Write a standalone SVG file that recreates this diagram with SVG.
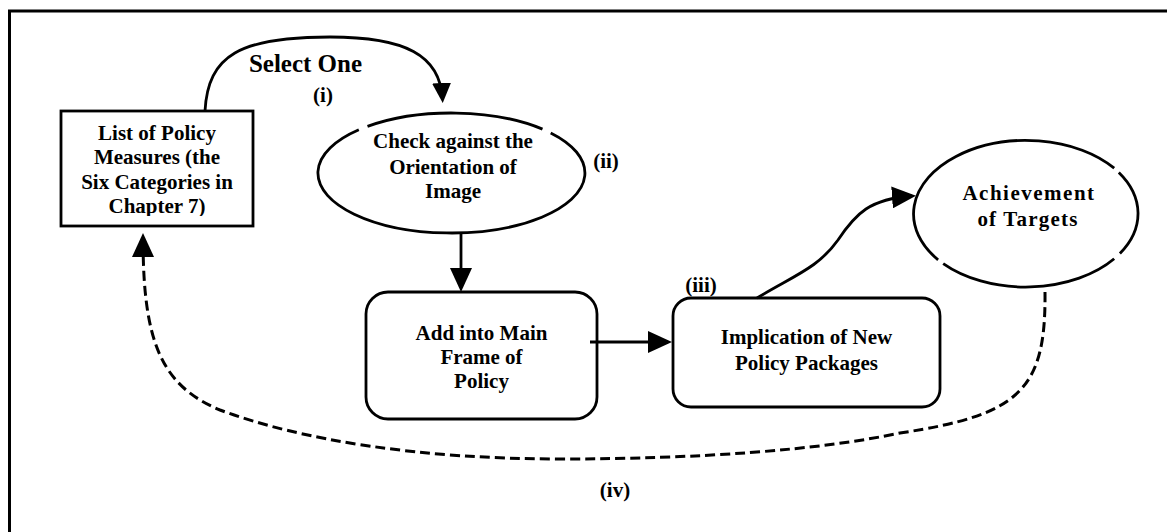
<svg xmlns="http://www.w3.org/2000/svg" width="1167" height="532" viewBox="0 0 1167 532">
  <style>
    .frame { fill: none; stroke: #000; stroke-width: 3; }
    .box { fill: #fff; stroke: #000; stroke-width: 2.8; }
    .oval { fill: none; stroke: #000; stroke-width: 2.8; }
    .lbl { font-family: "Liberation Serif", "Times New Roman", serif; font-weight: bold; font-size: 21px; fill: #000; text-anchor: middle; }
    .tag { font-family: "Liberation Serif", "Times New Roman", serif; font-weight: bold; font-size: 21px; fill: #000; text-anchor: middle; }
    .flow { fill: none; stroke: #000; stroke-width: 2.8; }
    .loop { fill: none; stroke: #000; stroke-width: 3; stroke-dasharray: 10 5; }
  </style>
  <defs>
    <marker id="head" viewBox="0 0 24 22" refX="20" refY="11" markerWidth="24" markerHeight="22" markerUnits="userSpaceOnUse" orient="auto">
      <path d="M0,0 L24,11 L0,22 Z" fill="#000"/>
    </marker>
    <marker id="head-sm" viewBox="0 0 20 19" refX="16" refY="9.5" markerWidth="20" markerHeight="19" markerUnits="userSpaceOnUse" orient="auto">
      <path d="M0,0 L20,9.5 L0,19 Z" fill="#000"/>
    </marker>
    <clipPath id="listClip">
      <rect x="61" y="111" width="192" height="105"/>
    </clipPath>
  </defs>

  <!-- outer border (top and left edges) -->
  <path class="frame" d="M9.5 540 L9.5 11 L1175 11"/>

  <!-- policy measures list -->
  <g id="policy-list">
    <rect class="box" x="61" y="111" width="192" height="115"/>
    <g clip-path="url(#listClip)">
      <text class="lbl" x="157" y="140">List of Policy</text>
      <text class="lbl" x="157" y="164">Measures (the</text>
      <text class="lbl" x="157" y="189">Six Categories in</text>
      <text class="lbl" x="157" y="213">Chapter 7)</text>
    </g>
  </g>

  <!-- orientation check -->
  <g id="orientation-check">
    <path class="oval" d="M367.5 126.4 A133.5 60 0 0 1 542.5 129.1 M550.7 132.9 A133.5 60 0 1 1 358.8 129.8"/>
    <text class="lbl" x="453" y="148">Check against the</text>
    <text class="lbl" x="453" y="174">Orientation of</text>
    <text class="lbl" x="453" y="198">Image</text>
  </g>

  <!-- main frame -->
  <g id="main-frame">
    <rect class="box" x="366" y="292" width="231" height="127" rx="22"/>
    <text class="lbl" x="481.5" y="340">Add into Main</text>
    <text class="lbl" x="481.5" y="364">Frame of</text>
    <text class="lbl" x="481.5" y="388">Policy</text>
  </g>

  <!-- new policy packages -->
  <g id="policy-packages">
    <rect class="box" x="673" y="298" width="267" height="109" rx="18"/>
    <text class="lbl" x="806.5" y="344">Implication of New</text>
    <text class="lbl" x="806.5" y="370">Policy Packages</text>
  </g>

  <!-- targets -->
  <g id="targets">
    <path class="oval" d="M1118.8 172.4 A112.5 73.5 0 0 1 1119.9 253.5 M1114.2 258.8 A112.5 73.5 0 0 1 943.2 263.6 M938.1 259.8 A112.5 73.5 0 1 1 1114.2 168.2"/>
    <text class="lbl" x="1029" y="200" style="letter-spacing:1.5px">Achievement</text>
    <text class="lbl" x="1028" y="226" style="letter-spacing:1.2px">of Targets</text>
  </g>

  <!-- connectors -->
  <g id="connectors">
    <path class="flow" d="M205 111 C208 55, 240 37, 330 37 C405 37, 440 55, 442.5 99" marker-end="url(#head-sm)"/>
    <path class="flow" d="M461 233 L461 288" marker-end="url(#head)"/>
    <path class="flow" d="M590 342 L668 342" marker-end="url(#head)"/>
    <path class="flow" d="M757 298 C795 275, 818 268, 838 240 C856 213, 870 199, 912 196" marker-end="url(#head)"/>
    <path class="loop" d="M1045 292 C1046 390, 1020 415, 900 433 C820 450, 700 459, 560 459 C420 459, 300 440, 220 410 C160 385, 143 340, 143 237" marker-end="url(#head)"/>
    <text class="tag" x="305.5" y="72" style="font-size:25px">Select One</text>
    <text class="tag" x="323" y="102">(i)</text>
    <text class="tag" x="606" y="168">(ii)</text>
    <text class="tag" x="701" y="292">(iii)</text>
    <text class="tag" x="615" y="497">(iv)</text>
  </g>
</svg>
